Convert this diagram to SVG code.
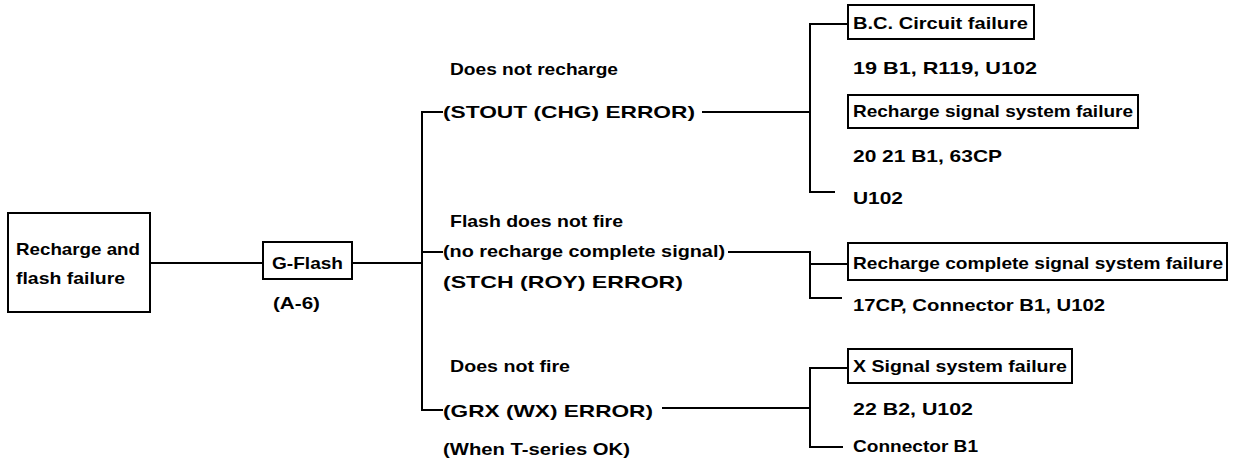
<svg xmlns="http://www.w3.org/2000/svg" width="1234" height="462" viewBox="0 0 1234 462">
<style>
text{font-family:"Liberation Sans",Arial,sans-serif;font-weight:bold;font-size:17px;fill:#000}
.box{fill:#fff;stroke:#000;stroke-width:2}
.ln{fill:none;stroke:#000;stroke-width:2}
</style>
<rect width="1234" height="462" fill="#fff"/>
<g id="connectors">
<path class="ln" d="M150 263H263"/>
<path class="ln" d="M352 263H422"/>
<path class="ln" d="M443 112H422V410H443"/>
<path class="ln" d="M422 252H443"/>
<path class="ln" d="M702 112H810"/>
<path class="ln" d="M848 24H810V192H835"/>
<path class="ln" d="M728 252H810V298H842"/>
<path class="ln" d="M810 264H848"/>
<path class="ln" d="M662 408H810"/>
<path class="ln" d="M848 368H810V447H843"/>
</g>
<g id="root">
<rect class="box" x="8" y="213" width="142" height="99"/>
<text x="16" y="255" textLength="124" lengthAdjust="spacingAndGlyphs">Recharge and</text>
<text x="16" y="284" textLength="109" lengthAdjust="spacingAndGlyphs">flash failure</text>
</g>
<g id="gflash">
<rect class="box" x="263" y="242" width="89" height="37"/>
<text x="272" y="269" textLength="71" lengthAdjust="spacingAndGlyphs">G-Flash</text>
<text x="273" y="309" textLength="47" lengthAdjust="spacingAndGlyphs">(A-6)</text>
</g>
<g id="cond1">
<text x="450" y="75" textLength="168" lengthAdjust="spacingAndGlyphs">Does not recharge</text>
<text x="443" y="118" textLength="252" lengthAdjust="spacingAndGlyphs">(STOUT (CHG) ERROR)</text>
</g>
<g id="cond2">
<text x="450" y="227" textLength="173" lengthAdjust="spacingAndGlyphs">Flash does not fire</text>
<text x="443" y="257" textLength="282" lengthAdjust="spacingAndGlyphs">(no recharge complete signal)</text>
<text x="443" y="288" textLength="240" lengthAdjust="spacingAndGlyphs">(STCH (ROY) ERROR)</text>
</g>
<g id="cond3">
<text x="450" y="372" textLength="120" lengthAdjust="spacingAndGlyphs">Does not fire</text>
<text x="443" y="417" textLength="210" lengthAdjust="spacingAndGlyphs">(GRX (WX) ERROR)</text>
<text x="443" y="455" textLength="187" lengthAdjust="spacingAndGlyphs">(When T-series OK)</text>
</g>
<g id="bc">
<rect class="box" x="848" y="5" width="186" height="34"/>
<text x="853" y="29" textLength="175" lengthAdjust="spacingAndGlyphs">B.C. Circuit failure</text>
<text x="853" y="74" textLength="184" lengthAdjust="spacingAndGlyphs">19 B1, R119, U102</text>
</g>
<g id="rsig">
<rect class="box" x="848" y="95" width="290" height="33"/>
<text x="853" y="117" textLength="280" lengthAdjust="spacingAndGlyphs">Recharge signal system failure</text>
<text x="853" y="162" textLength="149" lengthAdjust="spacingAndGlyphs">20 21 B1, 63CP</text>
</g>
<g id="u102">
<text x="853" y="204" textLength="50" lengthAdjust="spacingAndGlyphs">U102</text>
</g>
<g id="rcsig">
<rect class="box" x="848" y="243" width="379" height="37"/>
<text x="853" y="269" textLength="370" lengthAdjust="spacingAndGlyphs">Recharge complete signal system failure</text>
<text x="853" y="311" textLength="252" lengthAdjust="spacingAndGlyphs">17CP, Connector B1, U102</text>
</g>
<g id="xsig">
<rect class="box" x="848" y="349" width="224" height="34"/>
<text x="853" y="372" textLength="214" lengthAdjust="spacingAndGlyphs">X Signal system failure</text>
<text x="853" y="415" textLength="120" lengthAdjust="spacingAndGlyphs">22 B2, U102</text>
</g>
<g id="conn">
<text x="853" y="452" textLength="125" lengthAdjust="spacingAndGlyphs">Connector B1</text>
</g>
</svg>
